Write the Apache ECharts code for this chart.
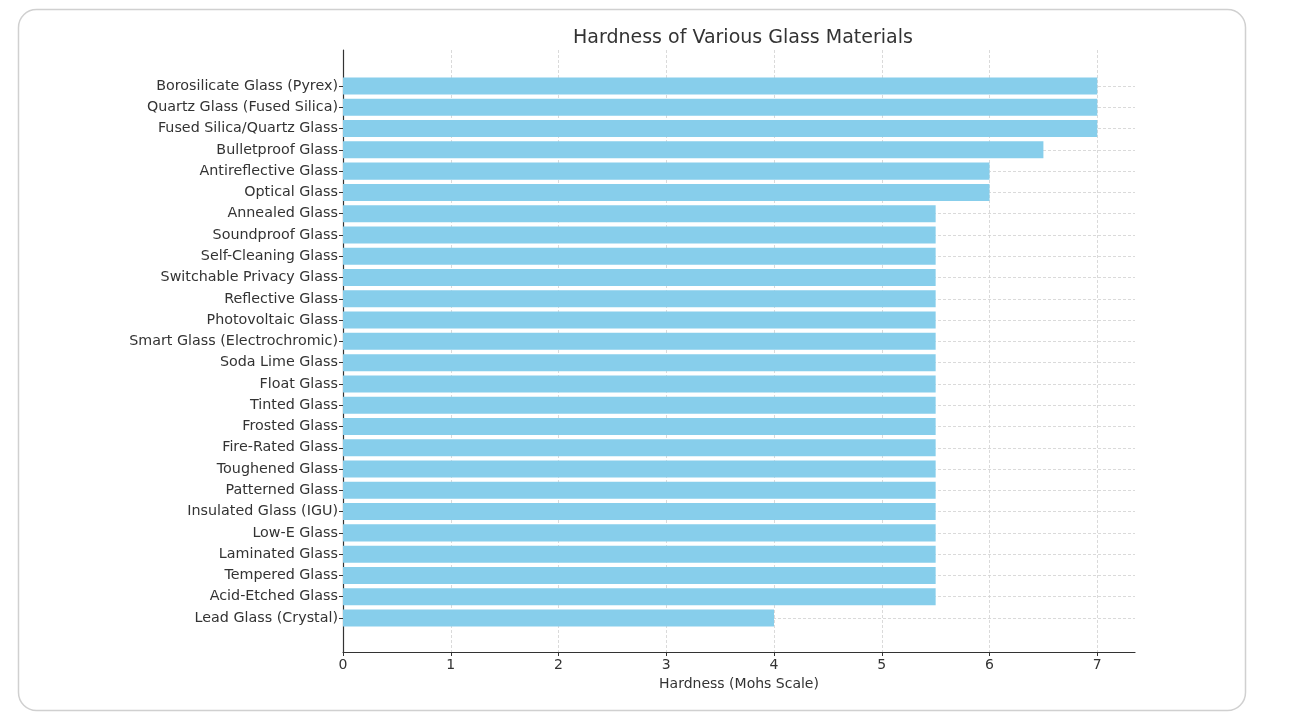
<!DOCTYPE html>
<html>
<head>
<meta charset="utf-8">
<script src="https://cdn.jsdelivr.net/npm/echarts@6/dist/echarts.min.js"></script>
<style>
html,body{margin:0;padding:0;background:#fff;}
#chart{width:1298px;height:720px;}
</style>
</head>
<body>
<div id="chart"></div>
<script>
const categories = [
  "Borosilicate Glass (Pyrex)",
  "Quartz Glass (Fused Silica)",
  "Fused Silica/Quartz Glass",
  "Bulletproof Glass",
  "Antireflective Glass",
  "Optical Glass",
  "Annealed Glass",
  "Soundproof Glass",
  "Self-Cleaning Glass",
  "Switchable Privacy Glass",
  "Reflective Glass",
  "Photovoltaic Glass",
  "Smart Glass (Electrochromic)",
  "Soda Lime Glass",
  "Float Glass",
  "Tinted Glass",
  "Frosted Glass",
  "Fire-Rated Glass",
  "Toughened Glass",
  "Patterned Glass",
  "Insulated Glass (IGU)",
  "Low-E Glass",
  "Laminated Glass",
  "Tempered Glass",
  "Acid-Etched Glass",
  "Lead Glass (Crystal)"
];
const hardness = [7, 7, 7, 6.5, 6, 6, 5.5, 5.5, 5.5, 5.5, 5.5, 5.5, 5.5, 5.5, 5.5, 5.5, 5.5, 5.5, 5.5, 5.5, 5.5, 5.5, 5.5, 5.5, 5.5, 4];
const xTicks = [0, 1, 2, 3, 4, 5, 6, 7];

const FONT = "DejaVu Sans";
const chart = echarts.init(document.getElementById('chart'), null, {renderer: 'canvas'});
const xMin = 0, xMax = 7.35;

chart.setOption({
  animation: false,
  backgroundColor: '#ffffff',
  graphic: [{
    type: 'rect',
    shape: {x: 18.5, y: 9.5, width: 1227, height: 701, r: 18},
    style: {fill: 'none', stroke: '#d0d0d0', lineWidth: 1.5},
    z: -10
  }],
  title: {
    text: 'Hardness of Various Glass Materials',
    left: 568, top: 24,
    textStyle: {fontFamily: FONT, fontSize: 19, fontWeight: 'normal', color: '#333333'}
  },
  grid: [
    {left: 343, right: 163, top: 50, bottom: 68, containLabel: false},
    {left: 343, right: 163, top: 86, bottom: 102, containLabel: false}
  ],
  xAxis: [
    {
      gridIndex: 0, type: 'value', min: xMin, max: xMax, interval: 1,
      name: 'Hardness (Mohs Scale)', nameLocation: 'middle', nameGap: 25,
      nameTextStyle: {fontFamily: FONT, fontSize: 14, color: '#333333'},
      axisLine: {show: true, onZero: false, lineStyle: {color: '#333333', width: 1.2}},
      axisTick: {show: true, inside: false, length: 4, lineStyle: {color: '#333333'}, customValues: xTicks},
      axisLabel: {
        fontFamily: FONT, fontSize: 14, color: '#333333', margin: 6,
        customValues: xTicks,
        formatter: v => String(v)
      },
      splitLine: {show: true, lineStyle: {color: '#d0d0d0', type: [3, 2], width: 0.8}}
    },
    {
      gridIndex: 1, type: 'value', min: xMin, max: xMax, show: false,
      splitLine: {show: false}
    }
  ],
  yAxis: [
    {
      gridIndex: 0, type: 'value', min: 0, max: 1,
      axisLine: {show: true, lineStyle: {color: '#333333', width: 1.2}},
      axisTick: {show: false}, axisLabel: {show: false}, splitLine: {show: false}
    },
    {
      gridIndex: 1, type: 'category', data: categories, inverse: true,
      boundaryGap: false,
      axisLine: {show: false},
      axisTick: {show: true, inside: false, length: 4, interval: 0, lineStyle: {color: '#333333'}},
      axisLabel: {fontFamily: FONT, fontSize: 14.3, color: '#333333', margin: 5, interval: 0},
      splitLine: {show: true, interval: 0, lineStyle: {color: '#d0d0d0', type: [3, 2], width: 0.8}}
    }
  ],
  series: [{
    type: 'bar',
    xAxisIndex: 1, yAxisIndex: 1,
    data: hardness,
    barCategoryGap: '20%',
    clip: false,
    itemStyle: {color: '#87CEEB'},
    z: 3
  }]
});
</script>
</body>
</html>
